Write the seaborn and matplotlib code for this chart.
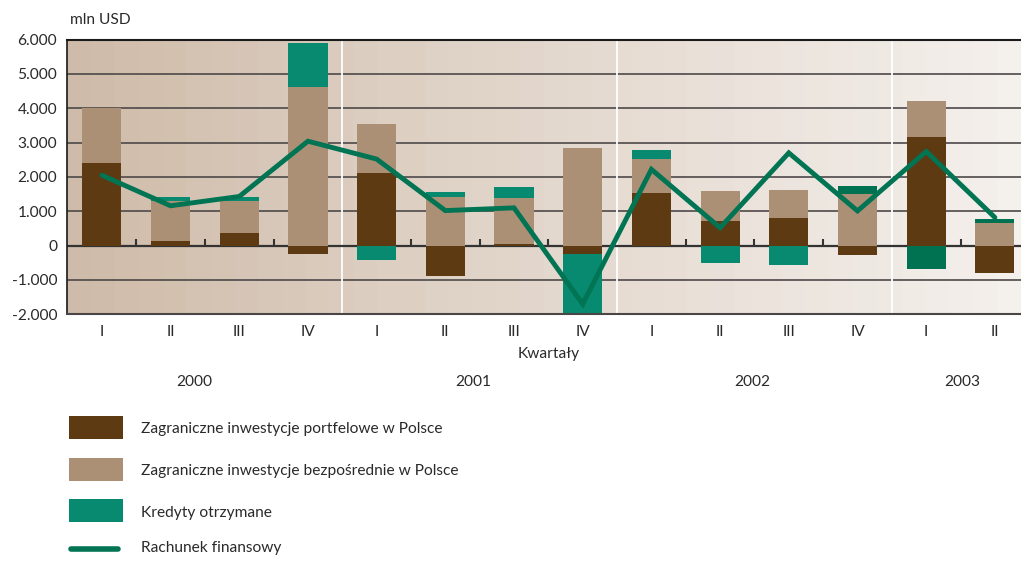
import numpy as np
import matplotlib.pyplot as plt
import seaborn as sns
from matplotlib.colors import LinearSegmentedColormap
from matplotlib.patches import Rectangle
from matplotlib.lines import Line2D

# quarterly data, mln USD
quarters = ["I", "II", "III", "IV", "I", "II", "III", "IV", "I", "II", "III", "IV", "I", "II"]
years = ["2000", "2001", "2002", "2003"]
portfolio = [2400, 140, 370, -240, 2120, -870, 50, -240, 1530, 720, 810, -260, 3170, -790]
direct = [1600, 1150, 930, 4620, 1420, 1420, 1340, 2840, 990, 870, 810, 1500, 1050, 660]
credits = [-20, 130, 120, 1280, -410, 140, 320, -1800, 270, -520, -550, 240, -670, 120]
financial = [2050, 1160, 1430, 3040, 2520, 1020, 1100, -1700, 2220, 520, 2700, 1010, 2740, 820]

labels = ["Zagraniczne inwestycje portfelowe w Polsce",
          "Zagraniczne inwestycje bezpośrednie w Polsce",
          "Kredyty otrzymane",
          "Rachunek finansowy"]

C_PORT = "#5e3a12"
C_DIRECT = "#ac9075"
C_CRED = "#078a6f"
C_CRED_DARK = "#007252"
C_LINE = "#007453"
TXT = "#2a2a2a"

sns.set_style("white")
plt.rcParams["font.family"] = ["Lato", "DejaVu Sans"]
plt.rcParams["font.size"] = 11.2

fig = plt.figure(figsize=(10.21, 5.62), dpi=100)
ax = fig.add_axes([0.0661, 0.4407, 0.9339, 0.489])

n = len(quarters)
idx = np.arange(n)
xmin, xmax, ymin, ymax = -0.5, 13.38, -2000, 6000

# background gradient
cmap = LinearSegmentedColormap.from_list("bg", ["#cfbba9", "#ddcfc2", "#e9e0d8", "#f4f0ec"])
grad = np.linspace(0, 1, 40).reshape(1, -1)
ax.imshow(grad, extent=[xmin, xmax, ymin, ymax], aspect="auto", cmap=cmap, zorder=0)

for y in [-1000, 1000, 2000, 3000, 4000, 5000]:
    ax.axhline(y, color="#4d4949", lw=1.2, zorder=1)
for xb in [3.5, 7.5, 11.5]:
    ax.axvline(xb, color="white", lw=1.3, zorder=1)
ax.axhline(0, color="#333333", lw=1.6, zorder=1)
ax.vlines([0.5, 1.5, 2.5, 4.5, 5.5, 6.5, 8.5, 9.5, 10.5, 12.5], 0, 200,
          color="#333333", lw=1.5, zorder=1)

# stacked bars, positives up and negatives down from zero
pos_base = np.zeros(n)
neg_base = np.zeros(n)
for vals, color in [(portfolio, C_PORT), (direct, C_DIRECT), (credits, C_CRED)]:
    vals = np.array(vals, dtype=float)
    bottom = np.where(vals >= 0, pos_base, neg_base)
    sns.barplot(x=idx, y=vals, bottom=bottom, color=color, saturation=1,
                width=0.57, errorbar=None, linewidth=0, zorder=2, ax=ax)
    pos_base += np.clip(vals, 0, None)
    neg_base += np.clip(vals, None, 0)

# last three credit bars are printed darker in the original
for i, patch in enumerate(ax.containers[-1]):
    if i >= 11:
        patch.set_facecolor(C_CRED_DARK)

sns.lineplot(x=idx, y=financial, color=C_LINE, linewidth=3.5, zorder=3, ax=ax,
             solid_capstyle="round", solid_joinstyle="miter")

ax.set_xlim(xmin, xmax)
ax.set_ylim(ymin, ymax)
ax.set_xticks(idx)
ax.set_xticklabels(quarters, color=TXT)
ax.set_yticks(range(-2000, 6001, 1000))
ax.set_yticklabels([f"{v:,}".replace(",", ".") for v in range(-2000, 6001, 1000)], color=TXT)
ax.tick_params(axis="both", length=0)
ax.tick_params(axis="y", pad=7.5)
ax.tick_params(axis="x", pad=7.5)
ax.set_xlabel("")
ax.set_ylabel("")

ax.spines["right"].set_visible(False)
ax.spines["top"].set_color("#1a1a1a")
ax.spines["top"].set_linewidth(1.5)
ax.spines["left"].set_color("#1a1a1a")
ax.spines["left"].set_linewidth(1.2)
ax.spines["bottom"].set_color("#4a4646")
ax.spines["bottom"].set_linewidth(1.5)

fig.text(70 / 1021, 1 - 20 / 562, "mln USD", color=TXT, va="center", ha="left")
ax.text(6.5, 1 - (354 - 39.5) / 274.8, "Kwartały", transform=ax.get_xaxis_transform(),
        ha="center", va="center", color=TXT)
for yr, xp in zip(years, [1.35, 5.4, 9.47, 12.53]):
    ax.text(xp, 1 - (382 - 39.5) / 274.8, yr, transform=ax.get_xaxis_transform(),
            ha="center", va="center", color=TXT)

# legend drawn by hand below the plot
W, H = 1021, 562
rows = [(427.5, C_PORT), (469.5, C_DIRECT), (510.5, C_CRED)]
for (yc, color), lab in zip(rows, labels[:3]):
    fig.add_artist(Rectangle((69 / W, 1 - (yc + 11.5) / H), 54 / W, 23 / H,
                             transform=fig.transFigure, facecolor=color, edgecolor="none"))
    fig.text(141 / W, 1 - (yc + 2) / H, lab, color=TXT, va="center", ha="left")
fig.add_artist(Line2D([71 / W, 118 / W], [1 - 549 / H, 1 - 549 / H], transform=fig.transFigure,
                      color=C_LINE, lw=4, solid_capstyle="round"))
fig.text(141 / W, 1 - 548 / H, labels[3], color=TXT, va="center", ha="left")

fig.savefig("out.png", dpi=100, facecolor="white")
